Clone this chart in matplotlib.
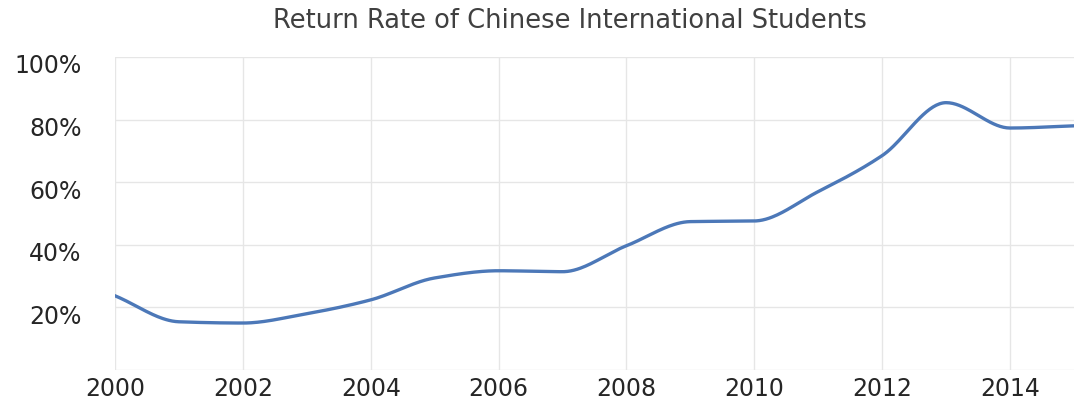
import matplotlib.pyplot as plt
import matplotlib.transforms as mtransforms
import numpy as np

years = [2000, 2001, 2002, 2003, 2004, 2005, 2006, 2007,
         2008, 2009, 2010, 2011, 2012, 2013, 2014, 2015]
return_rate = [23.7, 15.4, 15.0, 18.0, 22.4, 29.4, 31.7, 31.4,
               39.7, 47.4, 47.6, 57.0, 68.5, 85.4, 77.3, 78.0]
y_ticks = [20, 40, 60, 80, 100]
x_ticks = [2000, 2002, 2004, 2006, 2008, 2010, 2012, 2014]


def smooth(x, y, steps=40):
    # monotone cubic (Fritsch-Carlson) so flat stretches stay flat
    x = np.asarray(x, float)
    y = np.asarray(y, float)
    h = np.diff(x)
    d = np.diff(y) / h
    m = np.zeros_like(y)
    m[0], m[-1] = d[0], d[-1]
    for i in range(1, len(y) - 1):
        if d[i - 1] * d[i] > 0:
            w1 = 2 * h[i] + h[i - 1]
            w2 = h[i] + 2 * h[i - 1]
            m[i] = (w1 + w2) / (w1 / d[i - 1] + w2 / d[i])
    out_x, out_y = [], []
    t = np.linspace(0, 1, steps)
    for i in range(len(h)):
        h00 = 2 * t**3 - 3 * t**2 + 1
        h10 = t**3 - 2 * t**2 + t
        h01 = -2 * t**3 + 3 * t**2
        h11 = t**3 - t**2
        out_x.extend(x[i] + t * h[i])
        out_y.extend(h00 * y[i] + h10 * h[i] * m[i]
                     + h01 * y[i + 1] + h11 * h[i] * m[i + 1])
    return out_x, out_y


fig = plt.figure(figsize=(10.74, 4.04), dpi=100)
ax = fig.add_axes([0.1071, 0.0842, 0.8929, 0.7748])

sx, sy = smooth(years, return_rate)
ax.plot(sx, sy, color='#4c78b8', linewidth=2.4, zorder=3)

ax.set_xlim(2000, 2015)
ax.set_ylim(0, 100)
ax.set_xticks(x_ticks)
ax.set_yticks(y_ticks)
ax.set_yticklabels([f"{v}%" for v in y_ticks])
ax.grid(color='#e6e6e6', linewidth=1.0)
ax.axhline(0, color='#e6e6e6', linewidth=1.0)
for s in ax.spines.values():
    s.set_visible(False)
ax.tick_params(length=0, colors='#262626', labelsize=17, pad=5)
ax.tick_params(axis='y', pad=24)
for lbl in ax.get_xticklabels() + ax.get_yticklabels():
    lbl.set_fontfamily('DejaVu Sans')
# y labels sit a bit below their gridlines
offset = mtransforms.ScaledTranslation(0, -0.07, fig.dpi_scale_trans)
for lbl in ax.get_yticklabels():
    lbl.set_transform(lbl.get_transform() + offset)

fig.text(0.531, 0.948, "Return Rate of Chinese International Students",
         ha='center', va='center', fontsize=18.5, color='#404040',
         family='DejaVu Sans')

fig.savefig('out.png', dpi=100, facecolor='white')
